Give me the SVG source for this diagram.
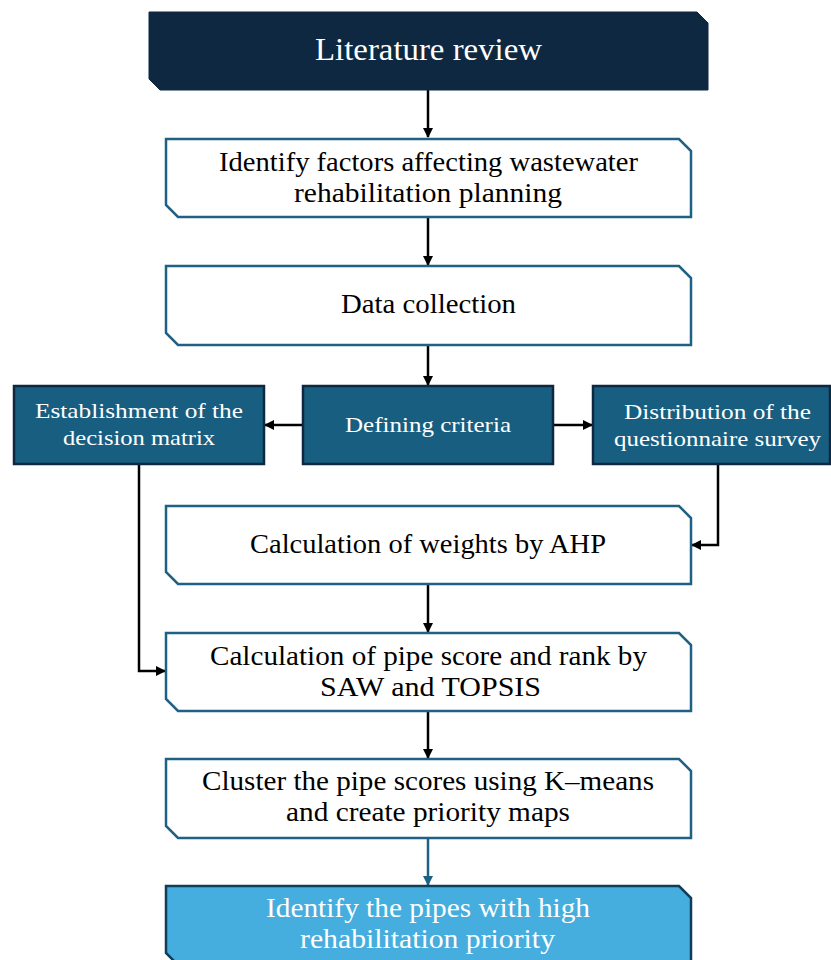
<svg xmlns="http://www.w3.org/2000/svg" width="831" height="960" viewBox="0 0 831 960">
<defs>
<marker id="ah" viewBox="0 0 10 10" refX="9" refY="5" markerWidth="10" markerHeight="10" markerUnits="userSpaceOnUse" orient="auto"><path d="M0,0 L10,5 L0,10 z" fill="#000"/></marker>
<marker id="aht" viewBox="0 0 10 10" refX="9" refY="5" markerWidth="10" markerHeight="10" markerUnits="userSpaceOnUse" orient="auto"><path d="M0,0 L10,5 L0,10 z" fill="#1f6085"/></marker>
</defs>
<style>
.w{fill:#fff;stroke:#1f6085;stroke-width:2.5}
.b{fill:#175e80;stroke:#0f2841;stroke-width:2.5}
.c{stroke:#000;stroke-width:2.5;fill:none;marker-end:url(#ah)}
</style>
<rect width="831" height="960" fill="#fff"/>
<g id="connectors">
<line class="c" x1="428" y1="90" x2="428" y2="137"/>
<line class="c" x1="428" y1="217" x2="428" y2="265"/>
<line class="c" x1="428" y1="345" x2="428" y2="385"/>
<line class="c" x1="303" y1="425" x2="265" y2="425"/>
<line class="c" x1="553" y1="425" x2="592" y2="425"/>
<polyline class="c" points="139,464 139,671 165,671"/>
<polyline class="c" points="718,464 718,545 692,545"/>
<line class="c" x1="428" y1="584" x2="428" y2="632"/>
<line class="c" x1="428" y1="711" x2="428" y2="758"/>
<line class="c" x1="428" y1="838" x2="428" y2="885" style="stroke:#1f6085;marker-end:url(#aht)"/>
</g>
<g id="nodes" font-family="'Liberation Serif', serif" text-anchor="middle">
<g id="n1">
<path d="M149,12 H697 L708,23 V90 H160 L149,79 Z" fill="#0f2841" stroke="#0f2841" stroke-width="1"/>
<text x="428.5" y="60" font-size="31" fill="#fff" textLength="227" lengthAdjust="spacingAndGlyphs">Literature review</text>
</g>
<g id="n2">
<path class="w" d="M166,139 H679 L691,151 V217 H178 L166,205 Z"/>
<text x="428.5" y="171" font-size="27" textLength="419" lengthAdjust="spacingAndGlyphs">Identify factors affecting wastewater</text>
<text x="428" y="202" font-size="27" textLength="268" lengthAdjust="spacingAndGlyphs">rehabilitation planning</text>
</g>
<g id="n3">
<path class="w" d="M166,266 H679 L691,278 V345 H178 L166,333 Z"/>
<text x="428.5" y="313" font-size="27" textLength="175" lengthAdjust="spacingAndGlyphs">Data collection</text>
</g>
<g id="n4">
<rect class="b" x="303" y="386" width="250" height="78"/>
<text x="428" y="432" font-size="22" fill="#fff" textLength="166" lengthAdjust="spacingAndGlyphs">Defining criteria</text>
</g>
<g id="n5">
<rect class="b" x="14" y="386" width="250" height="78"/>
<text x="139" y="418" font-size="22" fill="#fff" textLength="208" lengthAdjust="spacingAndGlyphs">Establishment of the</text>
<text x="139" y="445" font-size="22" fill="#fff" textLength="152" lengthAdjust="spacingAndGlyphs">decision matrix</text>
</g>
<g id="n6">
<rect class="b" x="593" y="386" width="237" height="78"/>
<text x="717.5" y="419" font-size="22" fill="#fff" textLength="187" lengthAdjust="spacingAndGlyphs">Distribution of the</text>
<text x="717.5" y="446" font-size="22" fill="#fff" textLength="207" lengthAdjust="spacingAndGlyphs">questionnaire survey</text>
</g>
<g id="n7">
<path class="w" d="M166,506 H679 L691,518 V584 H178 L166,572 Z"/>
<text x="428" y="553" font-size="27" textLength="356" lengthAdjust="spacingAndGlyphs">Calculation of weights by AHP</text>
</g>
<g id="n8">
<path class="w" d="M166,633 H679 L691,645 V711 H178 L166,699 Z"/>
<text x="428.5" y="665" font-size="27" textLength="437" lengthAdjust="spacingAndGlyphs">Calculation of pipe score and rank by</text>
<text x="430.5" y="696" font-size="27" textLength="221" lengthAdjust="spacingAndGlyphs">SAW and TOPSIS</text>
</g>
<g id="n9">
<path class="w" d="M166,759 H679 L691,771 V838 H178 L166,826 Z"/>
<text x="428" y="790" font-size="27" textLength="452" lengthAdjust="spacingAndGlyphs">Cluster the pipe scores using K–means</text>
<text x="428" y="821" font-size="27" textLength="284" lengthAdjust="spacingAndGlyphs">and create priority maps</text>
</g>
<g id="n10">
<path d="M166,886 H679 L691,898 V965 H178 L166,953 Z" fill="#45aedf" stroke="#0f3d5a" stroke-width="2.5"/>
<text x="428" y="917" font-size="27" fill="#fff" textLength="324" lengthAdjust="spacingAndGlyphs">Identify the pipes with high</text>
<text x="427.5" y="948" font-size="27" fill="#fff" textLength="255" lengthAdjust="spacingAndGlyphs">rehabilitation priority</text>
</g>
</g>
</svg>
